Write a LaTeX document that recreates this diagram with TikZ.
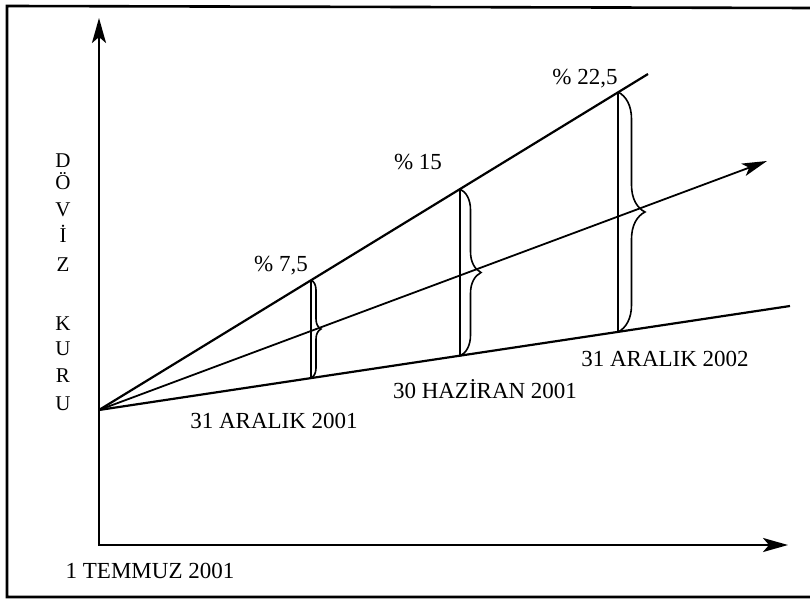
\documentclass[tikz,border=0pt]{standalone}
\usepackage{fontspec}
\setmainfont{Liberation Serif}
\usetikzlibrary{arrows.meta,decorations.pathreplacing}
\begin{document}
\begin{tikzpicture}[x=1pt,y=-1pt,
  frame/.style={line width=2.6pt},
  axis/.style={line width=2.6pt,line join=miter},
  trend/.style={line width=2.2pt},
  midline/.style={line width=1.8pt,-{Stealth[length=25pt,width=13pt,inset=6pt]}},
  vline/.style={line width=2pt},
  bracestyle/.style={line width=1.6pt,decorate,decoration={brace,amplitude=#1}},
  lbl/.style={font=\fontsize{23}{23}\selectfont,anchor=base,inner sep=0pt},
  vlbl/.style={font=\fontsize{21}{21}\selectfont,anchor=base,inner sep=0pt}]
\useasboundingbox (0,0) rectangle (810,601);
% frame (open on the right)
\coordinate (F1) at (810,8);
\coordinate (F2) at (7,6);
\coordinate (F3) at (7,597);
\coordinate (F4) at (810,597);
\draw[frame] (F1) -- (F2) -- (F3) -- (F4);
% axes
\coordinate (Yt) at (99,18);
\coordinate (C) at (99,545);
\coordinate (Xt) at (788,545);
\draw[axis,{Stealth[length=25pt,width=14pt,inset=6pt]}-{Stealth[length=25pt,width=14pt,inset=6pt]}] (Yt) -- (C) -- (Xt);
% trend lines
\coordinate (O) at (99,410);
\coordinate (Ue) at (648,74);
\coordinate (Me) at (767,161);
\coordinate (Le) at (790,306);
\draw[trend] (O) -- (Ue);
\draw[midline] (O) -- (Me);
\draw[trend] (O) -- (Le);
% vertical markers
\coordinate (A1) at (311,280);
\coordinate (B1) at (311,378);
\coordinate (A2) at (460,189);
\coordinate (B2) at (460,356);
\coordinate (A3) at (618,92);
\coordinate (B3) at (618,332);
\draw[vline] (A1) -- (B1);
\draw[vline] (A2) -- (B2);
\draw[vline] (A3) -- (B3);
\draw[bracestyle=10pt] (A1) -- (B1);
\draw[bracestyle=21pt] (A2) -- (B2);
\draw[bracestyle=27pt] (A3) -- (B3);
% percentage labels
\node[lbl] (p1) at (281,272) {\% 7,5};
\node[lbl] (p2) at (418,170) {\% 15};
\node[lbl] (p3) at (585,85) {\% 22,5};
% date labels
\node[lbl] (d1) at (274,428) {31 ARALIK 2001};
\node[lbl] (d2) at (485,398) {30 HAZİRAN 2001};
\node[lbl] (d3) at (665,366) {31 ARALIK 2002};
\node[lbl] (d0) at (150,578) {1 TEMMUZ 2001};
% vertical axis title
\node[vlbl] (v1) at (63,168) {D};
\node[vlbl] (v2) at (63,190) {Ö};
\node[vlbl] (v3) at (63,217) {V};
\node[vlbl] (v4) at (63,243) {İ};
\node[vlbl] (v5) at (63,272) {Z};
\node[vlbl] (v6) at (63,330) {K};
\node[vlbl] (v7) at (63,355) {U};
\node[vlbl] (v8) at (63,382) {R};
\node[vlbl] (v9) at (63,410) {U};
\end{tikzpicture}
\end{document}
